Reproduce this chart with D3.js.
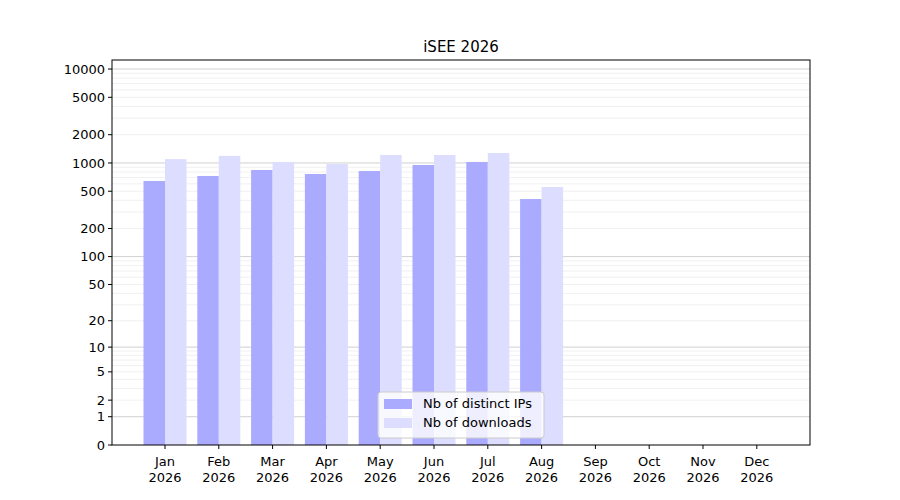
<!DOCTYPE html>
<html><head><meta charset="utf-8">
<script src="https://cdn.jsdelivr.net/npm/d3@7"></script>
<style>body{margin:0;background:#fff}text{font-family:"DejaVu Sans",sans-serif}</style>
</head><body>
<script>
var months = ["Jan","Feb","Mar","Apr","May","Jun","Jul","Aug","Sep","Oct","Nov","Dec"];
var year = "2026";
var distinctIPs = [643, 727, 842, 763, 821, 952, 1025, 413];
var downloads = [1100, 1190, 1025, 975, 1217, 1217, 1277, 555];
var tickValues = [0, 1, 2, 5, 10, 20, 50, 100, 200, 500, 1000, 2000, 5000, 10000];

var svg = d3.select("body").append("svg").attr("width", 900).attr("height", 500);
var pLeft = 112, pRight = 810, pTop = 60, pBottom = 445;

// log10(1+x) scale
function tr(v) { return Math.log10(1 + v); }
var y = d3.scaleLinear().domain([0, 4.096]).range([pBottom, pTop]);

// minor grid
var minor = [];
[1, 10, 100, 1000, 10000].forEach(function(d) { for (var k = 2; k <= 9; k++) if (tr(d*k) < 4.096) minor.push(d*k); });
svg.selectAll("line.minor").data(minor).enter().append("line")
  .attr("x1", pLeft).attr("x2", pRight)
  .attr("y1", function(d){return y(tr(d));}).attr("y2", function(d){return y(tr(d));})
  .attr("stroke", "#ececec").attr("stroke-width", 0.8);
svg.selectAll("line.major").data([1, 10, 100, 1000, 10000]).enter().append("line")
  .attr("x1", pLeft).attr("x2", pRight)
  .attr("y1", function(d){return y(tr(d));}).attr("y2", function(d){return y(tr(d));})
  .attr("stroke", "#c4c4c4").attr("stroke-width", 0.8);

var bw = 21.5;
var x = d3.scaleLinear().domain([0, 11]).range([pLeft + 53, pLeft + 53 + 11 * 53.8]);
svg.selectAll("rect.ip").data(distinctIPs).enter().append("rect")
  .attr("x", function(d,i){return x(i) - bw;}).attr("width", bw)
  .attr("y", function(d){return y(tr(d));}).attr("height", function(d){return pBottom - y(tr(d));})
  .attr("fill", "#aaaaff");
svg.selectAll("rect.dl").data(downloads).enter().append("rect")
  .attr("x", function(d,i){return x(i);}).attr("width", bw)
  .attr("y", function(d){return y(tr(d));}).attr("height", function(d){return pBottom - y(tr(d));})
  .attr("fill", "#ddddff");

// frame
svg.append("rect").attr("x", pLeft).attr("y", pTop).attr("width", pRight-pLeft).attr("height", pBottom-pTop)
  .attr("fill", "none").attr("stroke", "#000").attr("stroke-width", 1);

// y ticks
var yt = svg.selectAll("g.yt").data(tickValues).enter().append("g")
  .attr("transform", function(d){return "translate(" + pLeft + "," + y(tr(d)) + ")";});
yt.append("line").attr("x1", -4).attr("x2", 0).attr("stroke", "#000");
yt.append("text").attr("x", -7).attr("dy", "0.35em").attr("text-anchor", "end")
  .attr("font-size", 13).text(function(d){return d;});

// x ticks
var xt = svg.selectAll("g.xt").data(months).enter().append("g")
  .attr("transform", function(d,i){return "translate(" + x(i) + "," + pBottom + ")";});
xt.append("line").attr("y1", 0).attr("y2", 4).attr("stroke", "#000");
xt.append("text").attr("y", 21).attr("text-anchor", "middle").attr("font-size", 13).text(function(d){return d;});
xt.append("text").attr("y", 37).attr("text-anchor", "middle").attr("font-size", 13).text(year);

svg.append("text").attr("x", (pLeft+pRight)/2).attr("y", 52).attr("text-anchor", "middle")
  .attr("font-size", 15).text("iSEE " + year);

// legend
var lg = svg.append("g").attr("transform", "translate(378,392)");
lg.append("rect").attr("width", 166).attr("height", 46).attr("rx", 3)
  .attr("fill", "#fff").attr("fill-opacity", 0.8).attr("stroke", "#ccc");
[["Nb of distinct IPs", "#aaaaff"], ["Nb of downloads", "#ddddff"]].forEach(function(e, i) {
  lg.append("rect").attr("x", 6).attr("y", 7 + i*19).attr("width", 28).attr("height", 10).attr("fill", e[1]);
  lg.append("text").attr("x", 45).attr("y", 16 + i*19).attr("font-size", 13).text(e[0]);
});
</script>
</body></html>
